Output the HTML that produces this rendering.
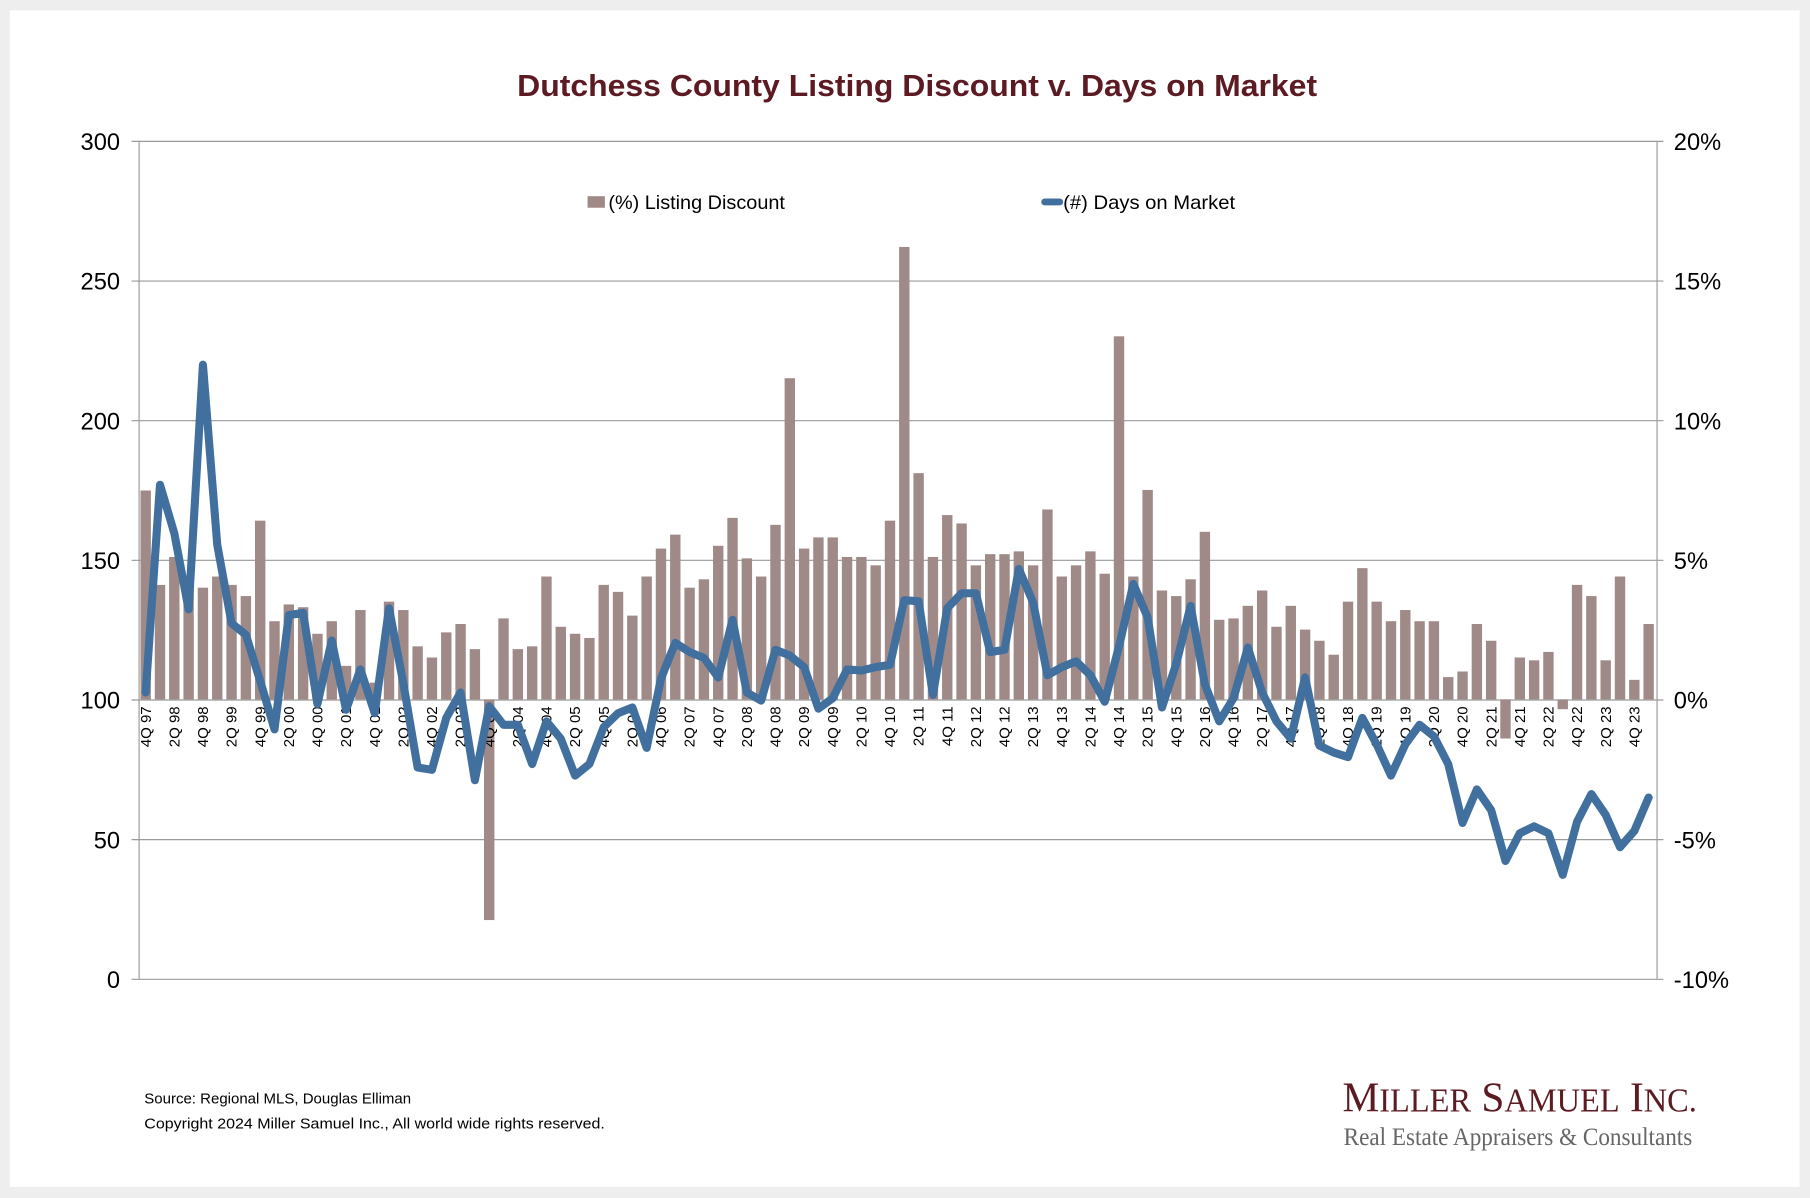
<!DOCTYPE html>
<html><head><meta charset="utf-8"><style>
html,body{margin:0;padding:0;background:#eeeeee;}
svg{display:block;}
</style></head><body>
<svg id="c" xmlns="http://www.w3.org/2000/svg" width="1810" height="1198" viewBox="0 0 1568 1038" preserveAspectRatio="none" font-family="Liberation Sans, Arial, sans-serif">
<rect x="0" y="0" width="1568" height="1038" fill="#eeeeee"/>
<rect x="8.5" y="9" width="1550.5" height="1019.5" fill="#ffffff"/>
<text x="448" y="83" font-size="26.5" font-weight="bold" fill="#5c1a22" textLength="693" lengthAdjust="spacingAndGlyphs">Dutchess County Listing Discount v. Days on Market</text>
<g stroke="#9a9a9a" stroke-width="1">
<line x1="114" y1="122.5" x2="1441" y2="122.5"/>
<line x1="114" y1="243.5" x2="1441" y2="243.5"/>
<line x1="114" y1="364.5" x2="1441" y2="364.5"/>
<line x1="114" y1="485.5" x2="1441" y2="485.5"/>
<line x1="114" y1="606.5" x2="1441" y2="606.5"/>
<line x1="114" y1="727.5" x2="1441" y2="727.5"/>
<line x1="114" y1="848.5" x2="1441" y2="848.5"/>
<line x1="120.5" y1="122" x2="120.5" y2="848"/>
<line x1="1435.5" y1="122" x2="1435.5" y2="848"/>
</g>
<g font-size="20.5" fill="#000" text-anchor="end">
<text x="104" y="130">300</text><text x="104" y="251">250</text><text x="104" y="372">200</text>
<text x="104" y="493">150</text><text x="104" y="614">100</text><text x="104" y="735">50</text><text x="104" y="856">0</text>
</g>
<g font-size="20.5" fill="#000">
<text x="1450" y="130">20%</text><text x="1450" y="251">15%</text><text x="1450" y="372">10%</text>
<text x="1450" y="493">5%</text><text x="1450" y="614">0%</text><text x="1450" y="735">-5%</text><text x="1450" y="856">-10%</text>
</g>
<g id="bars" fill="#a08a88"></g>
<g font-size="13" fill="#000" text-anchor="end">
<text transform="translate(130.6,612) rotate(-90)">4Q 97</text>
<text transform="translate(155.4,612) rotate(-90)">2Q 98</text>
<text transform="translate(180.2,612) rotate(-90)">4Q 98</text>
<text transform="translate(205,612) rotate(-90)">2Q 99</text>
<text transform="translate(229.8,612) rotate(-90)">4Q 99</text>
<text transform="translate(254.6,612) rotate(-90)">2Q 00</text>
<text transform="translate(279.4,612) rotate(-90)">4Q 00</text>
<text transform="translate(304.2,612) rotate(-90)">2Q 01</text>
<text transform="translate(329,612) rotate(-90)">4Q 01</text>
<text transform="translate(353.8,612) rotate(-90)">2Q 02</text>
<text transform="translate(378.6,612) rotate(-90)">4Q 02</text>
<text transform="translate(403.4,612) rotate(-90)">2Q 03</text>
<text transform="translate(428.2,612) rotate(-90)">4Q 03</text>
<text transform="translate(453,612) rotate(-90)">2Q 04</text>
<text transform="translate(477.8,612) rotate(-90)">4Q 04</text>
<text transform="translate(502.6,612) rotate(-90)">2Q 05</text>
<text transform="translate(527.4,612) rotate(-90)">4Q 05</text>
<text transform="translate(552.2,612) rotate(-90)">2Q 06</text>
<text transform="translate(577,612) rotate(-90)">4Q 06</text>
<text transform="translate(601.8,612) rotate(-90)">2Q 07</text>
<text transform="translate(626.6,612) rotate(-90)">4Q 07</text>
<text transform="translate(651.4,612) rotate(-90)">2Q 08</text>
<text transform="translate(676.2,612) rotate(-90)">4Q 08</text>
<text transform="translate(701,612) rotate(-90)">2Q 09</text>
<text transform="translate(725.8,612) rotate(-90)">4Q 09</text>
<text transform="translate(750.6,612) rotate(-90)">2Q 10</text>
<text transform="translate(775.4,612) rotate(-90)">4Q 10</text>
<text transform="translate(800.2,612) rotate(-90)">2Q 11</text>
<text transform="translate(825,612) rotate(-90)">4Q 11</text>
<text transform="translate(849.8,612) rotate(-90)">2Q 12</text>
<text transform="translate(874.6,612) rotate(-90)">4Q 12</text>
<text transform="translate(899.4,612) rotate(-90)">2Q 13</text>
<text transform="translate(924.2,612) rotate(-90)">4Q 13</text>
<text transform="translate(949,612) rotate(-90)">2Q 14</text>
<text transform="translate(973.8,612) rotate(-90)">4Q 14</text>
<text transform="translate(998.6,612) rotate(-90)">2Q 15</text>
<text transform="translate(1023.4,612) rotate(-90)">4Q 15</text>
<text transform="translate(1048.2,612) rotate(-90)">2Q 16</text>
<text transform="translate(1073,612) rotate(-90)">4Q 16</text>
<text transform="translate(1097.8,612) rotate(-90)">2Q 17</text>
<text transform="translate(1122.6,612) rotate(-90)">4Q 17</text>
<text transform="translate(1147.4,612) rotate(-90)">2Q 18</text>
<text transform="translate(1172.2,612) rotate(-90)">4Q 18</text>
<text transform="translate(1197,612) rotate(-90)">2Q 19</text>
<text transform="translate(1221.8,612) rotate(-90)">4Q 19</text>
<text transform="translate(1246.6,612) rotate(-90)">2Q 20</text>
<text transform="translate(1271.4,612) rotate(-90)">4Q 20</text>
<text transform="translate(1296.2,612) rotate(-90)">2Q 21</text>
<text transform="translate(1321,612) rotate(-90)">4Q 21</text>
<text transform="translate(1345.8,612) rotate(-90)">2Q 22</text>
<text transform="translate(1370.6,612) rotate(-90)">4Q 22</text>
<text transform="translate(1395.4,612) rotate(-90)">2Q 23</text>
<text transform="translate(1420.2,612) rotate(-90)">4Q 23</text>
</g>
<polyline id="line" fill="none" stroke="#41709f" stroke-width="7" stroke-linejoin="round" stroke-linecap="round" points=""/>
<rect x="509" y="170" width="15" height="10" fill="#a08a88"/>
<text x="527" y="181" font-size="17" fill="#000" textLength="153" lengthAdjust="spacingAndGlyphs">(%) Listing Discount</text>
<line x1="905" y1="175" x2="918" y2="175" stroke="#41709f" stroke-width="6" stroke-linecap="round"/>
<text x="921" y="181" font-size="17" fill="#000" textLength="149" lengthAdjust="spacingAndGlyphs">(#) Days on Market</text>
<text x="125" y="956" font-size="13" fill="#000">Source: Regional MLS, Douglas Elliman</text>
<text x="125" y="978" font-size="13" fill="#000" textLength="399" lengthAdjust="spacingAndGlyphs">Copyright 2024 Miller Samuel Inc., All world wide rights reserved.</text>
<text x="1163" y="963" style="font-family:'Liberation Serif',serif" font-size="37" fill="#5c1a22" textLength="307" lengthAdjust="spacingAndGlyphs">M<tspan font-size="29">ILLER</tspan> S<tspan font-size="29">AMUEL</tspan> I<tspan font-size="29">NC.</tspan></text>
<text x="1164" y="992" style="font-family:'Liberation Serif',serif" font-size="22" fill="#666" textLength="302" lengthAdjust="spacingAndGlyphs">Real Estate Appraisers &amp; Consultants</text>
</svg>
<script>
var v=[7.48,4.1,5.1,4.25,4.0,4.4,4.1,3.7,6.4,2.8,3.4,3.3,2.35,2.8,1.2,3.2,0.6,3.5,3.2,1.9,1.5,2.4,2.7,1.8,-7.9,2.9,1.8,1.9,4.4,2.6,2.35,2.2,4.1,3.85,3.0,4.4,5.4,5.9,4.0,4.3,5.5,6.5,5.05,4.4,6.25,11.5,5.4,5.8,5.8,5.1,5.1,4.8,6.4,16.2,8.1,5.1,6.6,6.3,4.8,5.2,5.2,5.3,4.8,6.8,4.4,4.8,5.3,4.5,13.0,4.4,7.5,3.9,3.7,4.3,6.0,2.85,2.9,3.35,3.9,2.6,3.35,2.5,2.1,1.6,3.5,4.7,3.5,2.8,3.2,2.8,2.8,0.8,1.0,2.7,2.1,-1.4,1.5,1.4,1.7,-0.35,4.1,3.7,1.4,4.4,0.7,2.7];
var ly=[600,420,462,528,316,472,540,550,590,632,533,531,610,555,615,580,618,527,592,665,667,622,600,676,612,628,628,662,625,640,672,662,630,618,613,648,588,557,565,570,587,537,600,607,563,568,578,614,605,580,581,578,576,520,521,602,527,514,514,565,563,493,522,585,578,573,585,608,560,506,535,613,575,525,593,625,605,561,600,625,640,587,646,652,656,622,645,672,645,628,638,662,713,684,702,746,722,716,722,758,712,688,706,734,720,691];
var NS="http://www.w3.org/2000/svg",g=document.getElementById('bars'),pts=[];
for(var i=0;i<v.length;i++){var cx=126.2+12.4*i,t=606-v[i]*24.2,r=document.createElementNS(NS,'rect');
r.setAttribute('x',cx-4.5);r.setAttribute('width',9);r.setAttribute('y',Math.min(t,606));r.setAttribute('height',Math.abs(606-t));g.appendChild(r);
pts.push(cx.toFixed(1)+','+ly[i]);}
document.getElementById('line').setAttribute('points',pts.join(' '));
</script>
</body></html>
